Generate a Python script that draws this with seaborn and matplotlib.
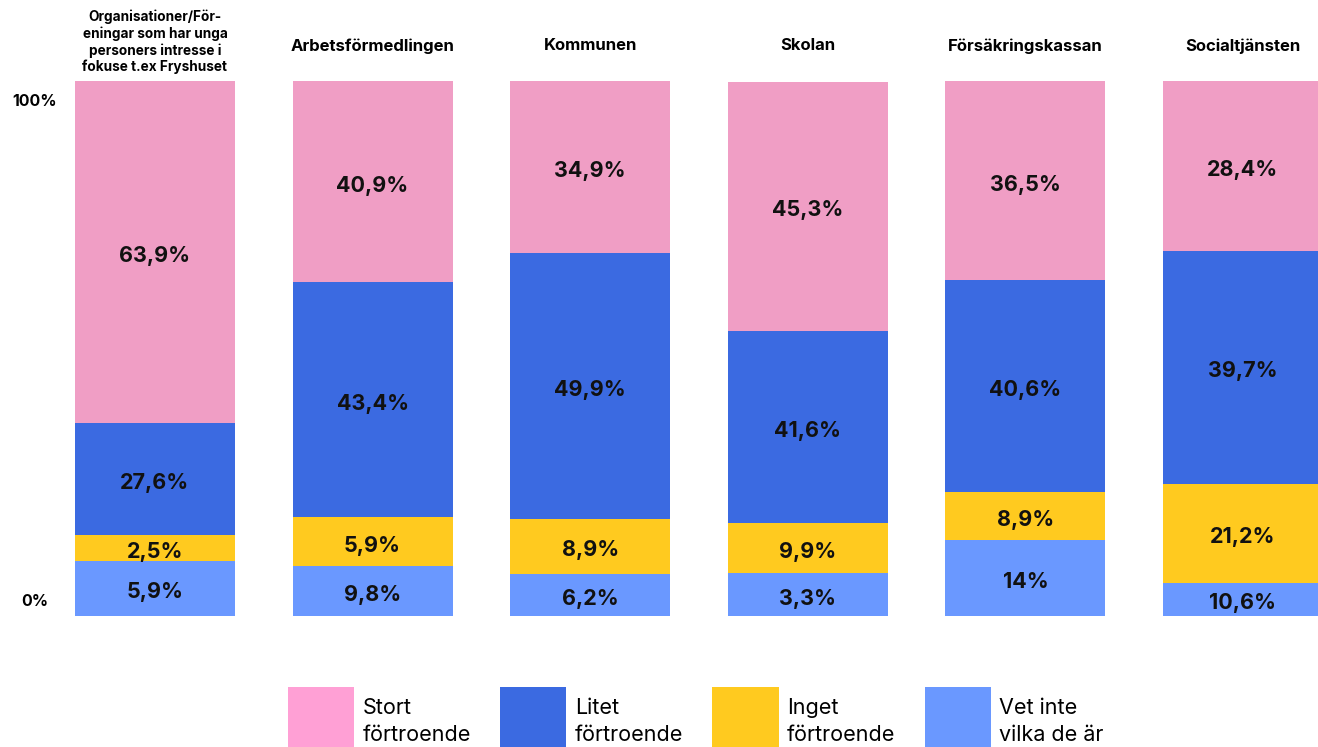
import matplotlib
matplotlib.use("Agg")
import matplotlib.pyplot as plt
import matplotlib.transforms as mtrans
from matplotlib.patches import Patch, Rectangle
from matplotlib.legend_handler import HandlerPatch
import seaborn as sns
import pandas as pd
import numpy as np

# ---- data ----
categories = [
    "Organisationer/För-\neningar som har unga\npersoners intresse i\nfokuse t.ex Fryshuset",
    "Arbetsförmedlingen", "Kommunen", "Skolan", "Försäkringskassan", "Socialtjänsten",
]
series_names = ["Stort\nförtroende", "Litet\nförtroende", "Inget\nförtroende", "Vet inte\nvilka de är"]

# printed labels (%)
label_stort = ["63,9%", "40,9%", "34,9%", "45,3%", "36,5%", "28,4%"]
label_litet = ["27,6%", "43,4%", "49,9%", "41,6%", "40,6%", "39,7%"]
label_inget = ["2,5%", "5,9%", "8,9%", "9,9%", "8,9%", "21,2%"]
label_vet = ["5,9%", "9,8%", "6,2%", "3,3%", "14%", "10,6%"]

# segment heights as drawn in the reference (% of bar)
h_stort = [63.9, 37.6, 32.1, 46.7, 37.2, 31.8]
h_litet = [20.9, 43.9, 49.7, 35.9, 39.6, 43.6]
h_inget = [4.9, 9.2, 10.3, 9.3, 9.0, 18.5]
h_vet = [10.3, 9.3, 7.9, 8.0, 14.2, 6.2]

colors = ["#F09EC5", "#3B6AE1", "#FFCA1F", "#6A98FF"]
legend_colors = ["#FFA0D5", "#3B6AE1", "#FFCA1F", "#6A98FF"]

FONT = "Inter"

fig = plt.figure(figsize=(13.18, 7.47), dpi=100)
ax = fig.add_axes([0, 131 / 747, 1, 535 / 747])

keys = [f"c{i}" for i in range(len(categories))]
layers = [h_vet, h_inget, h_litet, h_stort]
layer_labels = [label_vet, label_inget, label_litet, label_stort]
layer_colors = [colors[3], colors[2], colors[1], colors[0]]

bottoms = np.zeros(len(categories))
cum = []
for h in layers:
    top = bottoms + np.array(h)
    cum.append((bottoms.copy(), top.copy()))
    bottoms = top

# draw from tallest cumulative layer to shortest
for (b, t), col in reversed(list(zip(cum, layer_colors))):
    df = pd.DataFrame({"cat": keys, "val": t})
    sns.barplot(data=df, x="cat", y="val", color=col, width=0.735,
                saturation=1, ax=ax, edgecolor="none", linewidth=0)

lab_off = mtrans.ScaledTranslation(0, -4 / 100, fig.dpi_scale_trans)
for (b, t), labs in zip(cum, layer_labels):
    for i, lab in enumerate(labs):
        ax.text(i, (b[i] + t[i]) / 2, lab, ha="center", va="center",
                fontsize=15.5, fontweight="bold", family=FONT, color="#111111",
                transform=ax.transData + lab_off)

ax.set_xlim(-0.7123, 5.3447)
ax.set_ylim(0, 100)
ax.axis("off")

# category titles
tr = mtrans.blended_transform_factory(ax.transData, fig.transFigure)
for i, c in enumerate(categories):
    if "\n" in c:
        ax.text(i, 1 - 42 / 747, c, transform=tr, ha="center", va="center",
                fontsize=9.8, fontweight="bold", family=FONT, linespacing=1.2)
    else:
        ax.text(i, 1 - 46 / 747, c, transform=tr, ha="center", va="center",
                fontsize=12, fontweight="bold", family=FONT)

# y labels
tr_y = mtrans.blended_transform_factory(fig.transFigure, ax.transData)
ax.text(35 / 1318, 100, "100%", ha="center", va="center", fontsize=11.5, fontweight="bold",
        family=FONT, transform=tr_y + mtrans.ScaledTranslation(0, -20 / 100, fig.dpi_scale_trans))
ax.text(35 / 1318, 0, "0%", ha="center", va="center", fontsize=11.5, fontweight="bold",
        family=FONT, transform=tr_y + mtrans.ScaledTranslation(0, 15 / 100, fig.dpi_scale_trans))


def raised_rect(legend, orig_handle, xdescent, ydescent, width, height, fontsize):
    return Rectangle((-xdescent, -ydescent + 5.0), width, height)


handles = [Patch(facecolor=c, edgecolor="none") for c in legend_colors]
leg = fig.legend(handles, series_names, loc="center", bbox_to_anchor=(0.528, 23 / 747),
                 ncol=4, frameon=False, prop={"family": FONT, "size": 15.5},
                 handlelength=3.07, handleheight=3.85, handletextpad=0.4,
                 columnspacing=1.35, borderpad=0, borderaxespad=0,
                 handler_map={Patch: HandlerPatch(patch_func=raised_rect)})
for t in leg.get_texts():
    t.set_linespacing(1.45)

fig.savefig("out.png", dpi=100, facecolor="white")
